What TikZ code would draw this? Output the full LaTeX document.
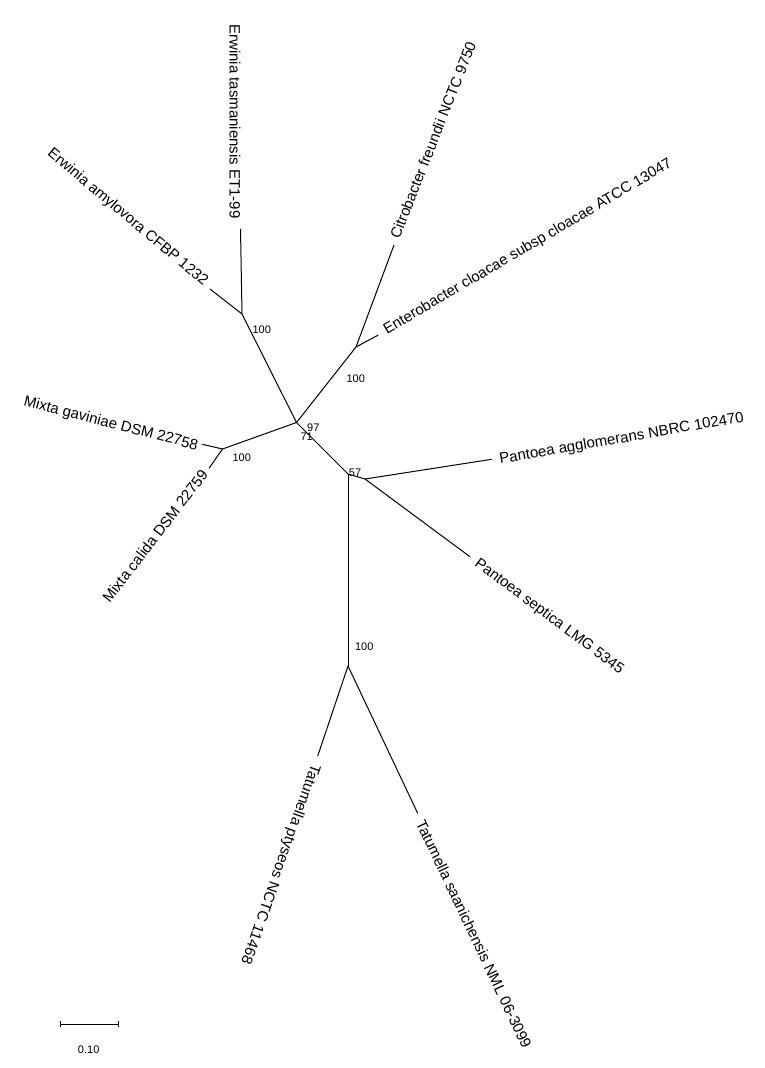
\documentclass[tikz,border=0pt]{standalone}
\usepackage{fontspec}
\setmainfont{Liberation Sans}
\begin{document}
\begin{tikzpicture}[x=1pt,y=-1pt,
  branch/.style={line width=1pt},
  leaflabel/.style={font=\fontsize{15}{18}\selectfont, inner sep=0pt},
  boot/.style={font=\fontsize{11}{13}\selectfont, inner sep=0pt}]
\useasboundingbox (0,0) rectangle (764,1068);
% internal nodes
\coordinate (C0) at (296.5,422.5);
\coordinate (E) at (242,314);
\coordinate (N) at (356,347);
\coordinate (M) at (222.5,449);
\coordinate (X) at (348,474);
\coordinate (P) at (365,479);
\coordinate (T) at (348,666);
% leaf tips
\coordinate (lET) at (240.5,229);
\coordinate (lEA) at (210,289);
\coordinate (lCF) at (394,245);
\coordinate (lEC) at (378.3,335);
\coordinate (lMG) at (202.3,444.3);
\coordinate (lMC) at (209,468.3);
\coordinate (lPA) at (491.7,459.3);
\coordinate (lPS) at (470,556.7);
\coordinate (lTP) at (317.7,756);
\coordinate (lTS) at (417.7,813.3);
% branches
\draw[branch] (C0) -- (E);
\draw[branch] (E) -- (lET);
\draw[branch] (E) -- (lEA);
\draw[branch] (C0) -- (N);
\draw[branch] (N) -- (lCF);
\draw[branch] (N) -- (lEC);
\draw[branch] (C0) -- (M);
\draw[branch] (M) -- (lMG);
\draw[branch] (M) -- (lMC);
\draw[branch] (C0) -- (X);
\draw[branch] (X) -- (P);
\draw[branch] (P) -- (lPA);
\draw[branch] (P) -- (lPS);
\draw[branch] (X) -- (T);
\draw[branch] (T) -- (lTP);
\draw[branch] (T) -- (lTS);
% leaf labels
\node[leaflabel, rotate=-90] (tET) at (235,121.5) {Erwinia tasmaniensis ET1-99};
\node[leaflabel, rotate=-40] (tEA) at (127.5,217.5) {Erwinia amylovora CFBP 1232};
\node[leaflabel, rotate=68.5] (tCF) at (433,140) {Citrobacter freundii NCTC 9750};
\node[leaflabel, rotate=30.5] (tEC) at (528,247) {Enterobacter cloacae subsp cloacae ATCC 13047};
\node[leaflabel, rotate=-14.5] (tMG) at (110.8,424) {Mixta gaviniae DSM 22758};
\node[leaflabel, rotate=52.5] (tMC) at (155,536) {Mixta calida DSM 22759};
\node[leaflabel, rotate=9.8] (tPA) at (621.7,439) {Pantoea agglomerans NBRC 102470};
\node[leaflabel, rotate=-36.7] (tPS) at (549,616.7) {Pantoea septica LMG 5345};
\node[leaflabel, rotate=-109.5] (tTP) at (280,864) {Tatumella ptyseos NCTC 11468};
\node[leaflabel, rotate=-64.7] (tTS) at (474,934) {Tatumella saanichensis NML 06-3099};
% bootstrap values
\node[boot] (bE) at (261.7,329.3) {100};
\node[boot] (bN) at (355.7,378.3) {100};
\node[boot] (b97) at (313.3,427.7) {97};
\node[boot] (b71) at (306.7,436.7) {71};
\node[boot] (bM) at (241.7,457.3) {100};
\node[boot] (b57) at (355,472.7) {57};
\node[boot] (bT) at (364.3,646.7) {100};
% scale bar
\coordinate (s1) at (60.7,1024);
\coordinate (s2) at (118.3,1024);
\draw[branch] (s1) -- (s2);
\draw[branch] ([yshift=3.3pt]s1) -- ([yshift=-3.3pt]s1);
\draw[branch] ([yshift=3.3pt]s2) -- ([yshift=-3.3pt]s2);
\node[boot] (sl) at (88.7,1050) {0.10};
\end{tikzpicture}
\end{document}
